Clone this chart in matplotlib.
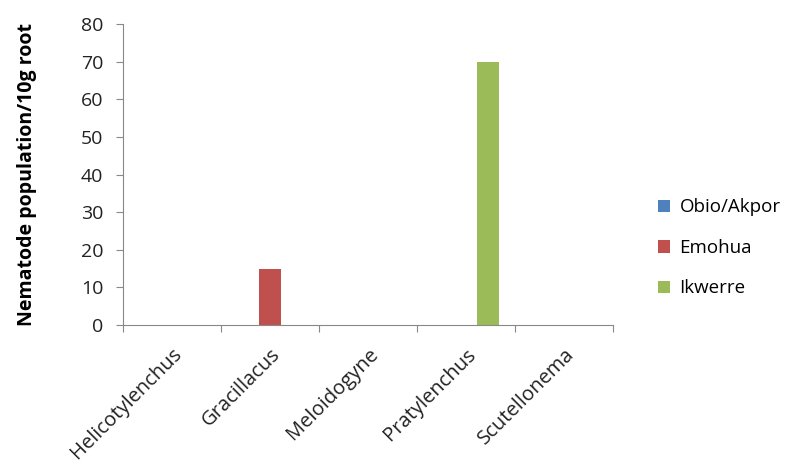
import numpy as np
from matplotlib import pyplot as plt
from matplotlib import transforms

plt.rcParams['font.family'] = ['Open Sans', 'DejaVu Sans']

categories = ["Helicotylenchus", "Gracillacus", "Meloidogyne", "Pratylenchus", "Scutellonema"]
obio_akpor = [0, 0, 0, 0, 0]
emohua = [0, 15, 0, 0, 0]
ikwerre = [0, 0, 0, 70, 0]

series = [("Obio/Akpor", obio_akpor, "#4f81bd"),
          ("Emohua", emohua, "#c0504d"),
          ("Ikwerre", ikwerre, "#9bbb59")]

fig = plt.figure(figsize=(7.88, 4.65), dpi=100)
ax = fig.add_axes([0.156, 0.301, 0.622, 0.647])

x = np.arange(len(categories))
w = 0.225
for i, (name, vals, col) in enumerate(series):
    ax.bar(x + (i - 1) * w, vals, w, color=col, label=name)

ax.set_xlim(-0.5, len(categories) - 0.5)
ax.set_ylim(0, 80)
ax.set_yticks(range(0, 81, 10))
ax.set_xticks(np.arange(-0.5, len(categories), 1.0))
ax.set_xticklabels([])
ax.set_xticks(x, minor=True)
ax.set_xticklabels(categories, minor=True, rotation=45, ha="right", va="top",
                   rotation_mode="anchor", fontsize=14.5, color="#222222")
# nudge rotated labels a bit to the right, like the original
shift = transforms.ScaledTranslation(6 / 100, 0, fig.dpi_scale_trans)
for lbl in ax.get_xticklabels(minor=True):
    lbl.set_transform(lbl.get_transform() + shift)
ax.tick_params(axis="x", which="minor", length=0, pad=14)
ax.tick_params(axis="x", which="major", length=5, color="#888888")
ax.tick_params(axis="y", length=5, color="#888888", labelsize=14, labelcolor="#222222", pad=9)

for s in ["top", "right"]:
    ax.spines[s].set_visible(False)
for s in ["left", "bottom"]:
    ax.spines[s].set_color("#888888")

ax.set_ylabel("Nematode population/10g root", fontsize=14, fontweight="bold", labelpad=32)

ax.legend(loc="center left", bbox_to_anchor=(0.835, 0.467), bbox_transform=fig.transFigure,
          frameon=False, fontsize=13.5, borderpad=0, borderaxespad=0,
          handlelength=0.65, handleheight=0.65, handletextpad=0.5, labelspacing=1.2)

fig.savefig("out.png", dpi=100)
